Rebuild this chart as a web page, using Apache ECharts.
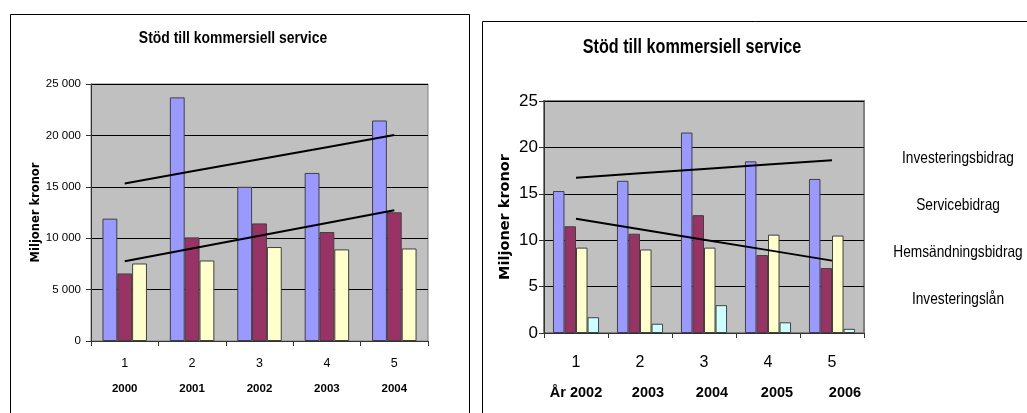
<!DOCTYPE html>
<html><head><meta charset="utf-8">
<script src="https://cdn.jsdelivr.net/npm/echarts@6/dist/echarts.min.js"></script>
<style>html,body{margin:0;padding:0;background:#fff}#c{width:1027px;height:413px}</style>
</head><body><div id="c"></div>
<script>
const FONT = '"Liberation Sans",Arial,sans-serif';
const BOLDNAME = '"DejaVu Sans",sans-serif';
const chartTitle = 'Stöd till kommersiell service';
const yName = 'Miljoner kronor';

// Left chart (kronor)
const catsA = ['1','2','3','4','5'];
const yearsA = ['2000','2001','2002','2003','2004'];
const investA = [11900, 23700, 15000, 16350, 21450];
const serviceA = [6570, 10080, 11440, 10600, 12520];
const hemA = [7540, 7830, 9140, 8910, 9000];

// Right chart (miljoner kronor)
const catsB = ['1','2','3','4','5'];
const yearsB = ['År 2002','2003','2004','2005','2006'];
const investB = [15.3, 16.4, 21.6, 18.5, 16.6];
const serviceB = [11.5, 10.7, 12.7, 8.4, 7.0];
const hemB = [9.2, 9.0, 9.2, 10.6, 10.5];
const lanB = [1.7, 1.0, 3.0, 1.15, 0.45];
const legendB = ['Investeringsbidrag','Servicebidrag','Hemsändningsbidrag','Investeringslån'];

const C_BLUE = '#9999FF', C_MAROON = '#993366', C_YELLOW = '#FFFFCC', C_CYAN = '#CCFFFF';

function trend(arr) {
  const n = arr.length;
  const mx = (n - 1) / 2;
  const my = arr.reduce((a, b) => a + b, 0) / n;
  let sxy = 0, sxx = 0;
  arr.forEach((v, i) => { sxy += (i - mx) * (v - my); sxx += (i - mx) * (i - mx); });
  const b = sxy / sxx;
  return arr.map((v, i) => +(my + b * (i - mx)).toFixed(3));
}

function fmtSpace(v) {
  return String(v).replace(/\B(?=(\d{3})+(?!\d))/g, ' ');
}

const chart = echarts.init(document.getElementById('c'), null, {renderer: 'canvas'});

const barStyle = (c) => ({color: c, borderColor: '#404040', borderWidth: 1});
const trendStyle = {color: '#000', width: 2};
const yrStyle = (pad) => ({fontFamily: FONT, fontSize: 14.5, fontWeight: 'bold', lineHeight: 36, color: '#000', padding: [0, 0, 0, pad]});

const option = {
  animation: false,
  backgroundColor: '#fff',
  textStyle: {fontFamily: FONT},
  grid: [
    {left: 91, top: 84, width: 337, height: 257, show: true, backgroundColor: '#C0C0C0',
     borderColor: '#808080', borderWidth: 1, containLabel: false},
    {left: 544, top: 101, width: 320, height: 232, show: true, backgroundColor: '#C0C0C0',
     borderColor: '#808080', borderWidth: 2, containLabel: false}
  ],
  xAxis: [
    {type: 'category', gridIndex: 0, data: catsA,
     axisLine: {lineStyle: {color: '#333', width: 1}},
     axisTick: {show: true, length: 5, lineStyle: {color: '#333'}},
     axisLabel: {margin: 13, color: '#000', interval: 0,
       formatter: (v, i) => '{n|' + v + '}\n{y|' + yearsA[i] + '}',
       rich: {n: {fontFamily: FONT, fontSize: 12.5, lineHeight: 20, color: '#000'},
              y: {fontFamily: FONT, fontSize: 11.5, fontWeight: 'bold', lineHeight: 30, color: '#000'}}}},
    {type: 'category', gridIndex: 1, data: catsB,
     axisLine: {lineStyle: {color: '#333', width: 1}},
     axisTick: {show: true, length: 5, lineStyle: {color: '#333'}},
     axisLabel: {margin: 18, color: '#000', interval: 0, hideOverlap: false,
       formatter: (v, i) => '{n|' + v + '}\n{y' + i + '|' + yearsB[i] + '}',
       rich: {n: {fontFamily: FONT, fontSize: 16, lineHeight: 24, color: '#000'},
              y0: yrStyle(0), y1: yrStyle(16), y2: yrStyle(16), y3: yrStyle(18), y4: yrStyle(26)}}}
  ],
  yAxis: [
    {type: 'value', gridIndex: 0, min: 0, max: 25000, interval: 5000,
     name: yName, nameLocation: 'middle', nameRotate: 90, nameGap: 49,
     nameTextStyle: {fontFamily: BOLDNAME, fontWeight: 'bold', fontSize: 11.5, color: '#000'},
     axisLine: {show: true, lineStyle: {color: '#333'}},
     axisTick: {show: true, length: 5, lineStyle: {color: '#333'}},
     axisLabel: {margin: 10, color: '#000', fontSize: 11.5, fontFamily: FONT, formatter: fmtSpace},
     splitLine: {lineStyle: {color: '#000', width: 1}}},
    {type: 'value', gridIndex: 1, min: 0, max: 25, interval: 5,
     name: yName, nameLocation: 'middle', nameRotate: 90, nameGap: 31,
     nameTextStyle: {fontFamily: BOLDNAME, fontWeight: 'bold', fontSize: 14.5, color: '#000'},
     axisLine: {show: true, lineStyle: {color: '#333'}},
     axisTick: {show: true, length: 5, lineStyle: {color: '#333'}},
     axisLabel: {margin: 6, color: '#000', fontSize: 17, fontFamily: FONT},
     splitLine: {lineStyle: {color: '#000', width: 1}}}
  ],
  series: [
    {type: 'bar', xAxisIndex: 0, yAxisIndex: 0, data: investA, itemStyle: barStyle(C_BLUE), barGap: '0%', barCategoryGap: '34%'},
    {type: 'bar', xAxisIndex: 0, yAxisIndex: 0, data: serviceA, itemStyle: barStyle(C_MAROON), barGap: '0%', barCategoryGap: '34%'},
    {type: 'bar', xAxisIndex: 0, yAxisIndex: 0, data: hemA, itemStyle: barStyle(C_YELLOW), barGap: '0%', barCategoryGap: '34%'},
    {type: 'line', xAxisIndex: 0, yAxisIndex: 0, data: trend(investA), symbol: 'none', lineStyle: trendStyle, z: 5},
    {type: 'line', xAxisIndex: 0, yAxisIndex: 0, data: trend(serviceA), symbol: 'none', lineStyle: trendStyle, z: 5},

    {type: 'bar', xAxisIndex: 1, yAxisIndex: 1, name: legendB[0], data: investB, itemStyle: barStyle(C_BLUE), barGap: '0%', barCategoryGap: '28%'},
    {type: 'bar', xAxisIndex: 1, yAxisIndex: 1, name: legendB[1], data: serviceB, itemStyle: barStyle(C_MAROON), barGap: '0%', barCategoryGap: '28%'},
    {type: 'bar', xAxisIndex: 1, yAxisIndex: 1, name: legendB[2], data: hemB, itemStyle: barStyle(C_YELLOW), barGap: '0%', barCategoryGap: '28%'},
    {type: 'bar', xAxisIndex: 1, yAxisIndex: 1, name: legendB[3], data: lanB, itemStyle: barStyle(C_CYAN), barGap: '0%', barCategoryGap: '28%'},
    {type: 'line', xAxisIndex: 1, yAxisIndex: 1, data: trend(investB), symbol: 'none', lineStyle: trendStyle, z: 5},
    {type: 'line', xAxisIndex: 1, yAxisIndex: 1, data: trend(serviceB), symbol: 'none', lineStyle: trendStyle, z: 5}
  ],
  graphic: [
    {type: 'rect', left: 8, top: 12, shape: {width: 459, height: 420}, style: {fill: 'none', stroke: '#000', lineWidth: 1}, z: -1},
    {type: 'rect', left: 480, top: 19, shape: {width: 580, height: 420}, style: {fill: 'none', stroke: '#000', lineWidth: 1}, z: -1},
    {type: 'text', x: 233, y: 38, scaleX: 0.82,
     style: {text: chartTitle, font: 'bold 17px ' + FONT, fill: '#000', textAlign: 'center', textVerticalAlign: 'middle'}},
    {type: 'text', x: 692, y: 48, scaleX: 0.83,
     style: {text: chartTitle, font: 'bold 19.5px ' + FONT, fill: '#000', textAlign: 'center', textVerticalAlign: 'middle'}}
  ].concat(legendB.map((t, i) => ({
    type: 'text', x: 958, y: 158 + 47 * i, scaleX: 0.83,
    style: {text: t, font: '16.5px ' + FONT, fill: '#000', textAlign: 'center', textVerticalAlign: 'middle'}
  })))
};
chart.setOption(option);
</script>
</body></html>
